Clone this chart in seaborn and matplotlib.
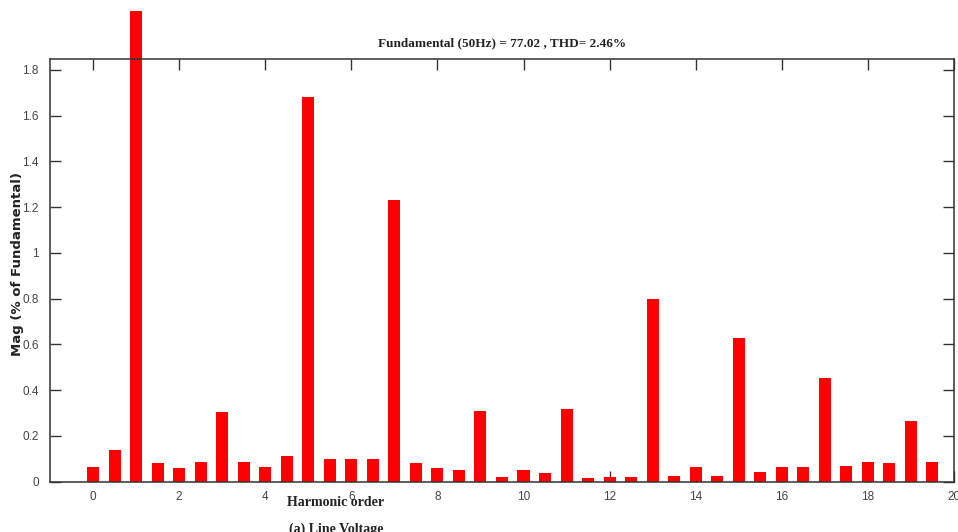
import numpy as np
import seaborn as sns
import matplotlib.pyplot as plt

# harmonic order (0, 0.5, 1, ... 19.5) and magnitude in % of fundamental
orders = [0, 0.5, 1, 1.5, 2, 2.5, 3, 3.5, 4, 4.5,
          5, 5.5, 6, 6.5, 7, 7.5, 8, 8.5, 9, 9.5,
          10, 10.5, 11, 11.5, 12, 12.5, 13, 13.5, 14, 14.5,
          15, 15.5, 16, 16.5, 17, 17.5, 18, 18.5, 19, 19.5]
mags = [0.066, 0.139, 2.06, 0.083, 0.058, 0.087, 0.303, 0.087, 0.066, 0.114,
        1.682, 0.098, 0.098, 0.098, 1.232, 0.083, 0.058, 0.050, 0.309, 0.022,
        0.051, 0.037, 0.318, 0.018, 0.022, 0.022, 0.797, 0.026, 0.066, 0.026,
        0.628, 0.044, 0.066, 0.063, 0.453, 0.070, 0.087, 0.083, 0.265, 0.087]
xticks = [0, 2, 4, 6, 8, 10, 12, 14, 16, 18, 20]
yticks = [0, 0.2, 0.4, 0.6, 0.8, 1, 1.2, 1.4, 1.6, 1.8]
ytick_labels = ['0', '0.2', '0.4', '0.6', '0.8', '1', '1.2', '1.4', '1.6', '1.8']

sns.set_style("ticks")
plt.rcParams['font.family'] = ['Liberation Sans', 'DejaVu Sans']

fig = plt.figure(figsize=(9.58, 5.32), dpi=100)
ax = fig.add_axes([0.0522, 0.0946, 0.9436, 0.7945])

sns.barplot(x=orders, y=mags, native_scale=True, color='#ff0000',
            saturation=1, width=0.56, ax=ax)
for p in ax.patches:
    p.set_clip_on(False)
    p.set_edgecolor('none')

ax.set_xlim(-1, 20)
ax.set_ylim(0, 1.848)
ax.set_xticks(xticks)
ax.set_xticklabels([str(t) for t in xticks])
ax.set_yticks(yticks)
ax.set_yticklabels(ytick_labels)
ax.tick_params(direction='in', top=True, right=True, length=8, width=1,
               color='#333333', labelsize=8.5, labelcolor='#444444')
ax.tick_params(axis='x', pad=7)
ax.tick_params(axis='y', pad=8)
for s in ax.spines.values():
    s.set_visible(True)
    s.set_color('#333333')
    s.set_linewidth(1.1)
ax.set_xlabel('')
ax.set_ylabel('Mag (% of Fundamental)', family='DejaVu Sans', fontsize=9.5,
              fontweight='bold', color='#222222')
ax.yaxis.set_label_coords(-0.029, 0.515)

ax.set_title('Fundamental (50Hz) = 77.02 , THD= 2.46%',
             family='Liberation Serif', fontweight='bold', fontsize=9.5,
             color='#222222', pad=9)

fig.text(336 / 958, 1 - 503 / 532, 'Harmonic order', family='Liberation Serif',
         fontweight='bold', fontsize=10, ha='center', va='center', color='#222222')
fig.text(336 / 958, 1 - 529 / 532, '(a) Line Voltage', family='Liberation Serif',
         fontweight='bold', fontsize=10, ha='center', va='center', color='#222222')

fig.savefig('out.png', dpi=100)
